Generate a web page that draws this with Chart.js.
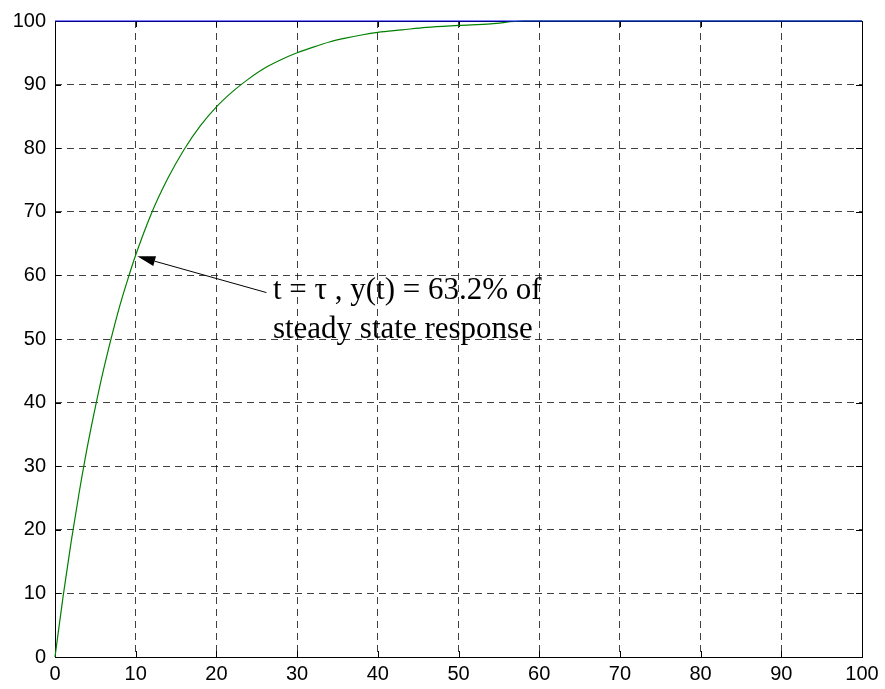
<!DOCTYPE html>
<html>
<head>
<meta charset="utf-8">
<script src="https://cdn.jsdelivr.net/npm/chart.js@4"></script>
<style>
  html, body { margin: 0; padding: 0; background: #fff; }
  #wrap { width: 885px; height: 689px; }
</style>
</head>
<body>
<div id="wrap"><canvas id="stepChart" width="885" height="689"></canvas></div>
<script>
// time (s) and response (%)
const timeVals = [0, 1, 2, 3, 4, 5, 6, 7, 8, 9, 10, 12, 14, 16, 18, 20, 22, 24, 26, 28, 30, 32, 34, 36, 38, 40, 43, 46, 50, 54, 58, 100];
const response = [0, 9.5, 18.1, 25.9, 33, 39.3, 45.1, 50.3, 55.1, 59.3, 63.2, 69.9, 75.3, 79.8, 83.5, 86.5, 88.9, 90.9, 92.6, 93.9, 95, 95.9, 96.7, 97.3, 97.8, 98.2, 98.6, 99, 99.3, 99.55, 100, 100];
const setpointX = [0, 100];
const setpointY = [100, 100];
const tickVals = [0, 10, 20, 30, 40, 50, 60, 70, 80, 90, 100];
const noteLines = ["t = \u03c4 , y(t) = 63.2% of", "steady state response"];
const notePoint = { x: 10.2, y: 63 };   // arrow tip
const noteTail = { x: 26.2, y: 57.3 };  // arrow start
const noteText = { x: 27, y: 56.3 };    // first line baseline

const pairs = (xs, ys) => xs.map((x, i) => ({ x: x, y: ys[i] }));

// box around the axes + little inward ticks like matlab
const boxPlugin = {
  id: "box",
  beforeDatasetsDraw(chart) {
    const { ctx, chartArea: a, scales } = chart;
    ctx.save();
    ctx.strokeStyle = "#000";
    ctx.lineWidth = 1;
    ctx.strokeRect(Math.round(a.left) + 0.5, Math.round(a.top) + 0.5,
      Math.round(a.right - a.left), Math.round(a.bottom - a.top));
    ctx.beginPath();
    tickVals.forEach(v => {
      const px = Math.round(scales.x.getPixelForValue(v)) + 0.5;
      ctx.moveTo(px, a.bottom); ctx.lineTo(px, a.bottom - 6);
      ctx.moveTo(px, a.top); ctx.lineTo(px, a.top + 6);
      const py = Math.round(scales.y.getPixelForValue(v)) + 0.5;
      ctx.moveTo(a.left, py); ctx.lineTo(a.left + 6, py);
      ctx.moveTo(a.right, py); ctx.lineTo(a.right - 6, py);
    });
    ctx.stroke();
    ctx.restore();
  },
  afterDatasetsDraw(chart) {
    const { ctx, scales } = chart;
    const tx = scales.x.getPixelForValue(notePoint.x);
    const ty = scales.y.getPixelForValue(notePoint.y);
    const sx = scales.x.getPixelForValue(noteTail.x);
    const sy = scales.y.getPixelForValue(noteTail.y);
    const ang = Math.atan2(ty - sy, tx - sx);
    const len = 18, half = 5;
    ctx.save();
    ctx.strokeStyle = "#000";
    ctx.fillStyle = "#000";
    ctx.lineWidth = 1;
    const bx = tx - len * Math.cos(ang), by = ty - len * Math.sin(ang);
    ctx.beginPath();
    ctx.moveTo(sx, sy);
    ctx.lineTo(bx, by);
    ctx.stroke();
    ctx.beginPath();
    ctx.moveTo(tx, ty);
    ctx.lineTo(bx + half * Math.sin(ang), by - half * Math.cos(ang));
    ctx.lineTo(bx - half * Math.sin(ang), by + half * Math.cos(ang));
    ctx.closePath();
    ctx.fill();
    ctx.font = "31px 'Liberation Serif', 'Times New Roman', serif";
    ctx.textBaseline = "alphabetic";
    ctx.textAlign = "left";
    const lx = scales.x.getPixelForValue(noteText.x);
    const ly = scales.y.getPixelForValue(noteText.y);
    noteLines.forEach((s, i) => ctx.fillText(s, lx, ly + i * 39));
    ctx.restore();
  }
};

const ctx = document.getElementById("stepChart").getContext("2d");
const gridStyle = {
  color: "rgba(0,0,0,0.75)",
  lineWidth: 1,
  drawTicks: false
};
const tickFont = { family: "'Liberation Sans', Arial, sans-serif", size: 20 };

new Chart(ctx, {
  type: "line",
  data: {
    datasets: [
      {
        data: pairs(setpointX, setpointY),
        borderColor: "#0000ff",
        borderWidth: 1.2,
        pointRadius: 0,
        clip: 3
      },
      {
        data: pairs(timeVals, response),
        borderColor: "#008000",
        borderWidth: 1.2,
        pointRadius: 0,
        cubicInterpolationMode: "monotone",
        clip: 3
      }
    ]
  },
  options: {
    responsive: false,
    animation: false,
    layout: { padding: { top: 20, right: 23, left: 0, bottom: 0 } },
    plugins: { legend: { display: false }, tooltip: { enabled: false } },
    scales: {
      x: {
        type: "linear",
        min: 0, max: 100,
        afterBuildTicks(s) { s.ticks = tickVals.map(v => ({ value: v })); },
        afterFit(s) { s.height = 32; },
        grid: gridStyle,
        border: { display: false, dash: [7, 5] },
        ticks: { color: "#000", padding: 5, maxRotation: 0, font: tickFont }
      },
      y: {
        type: "linear",
        min: 0, max: 100,
        afterBuildTicks(s) { s.ticks = tickVals.map(v => ({ value: v })); },
        afterFit(s) { s.width = 55; },
        grid: gridStyle,
        border: { display: false, dash: [7, 5] },
        ticks: { color: "#000", padding: 9, font: tickFont }
      }
    }
  },
  plugins: [boxPlugin]
});
</script>
</body>
</html>
